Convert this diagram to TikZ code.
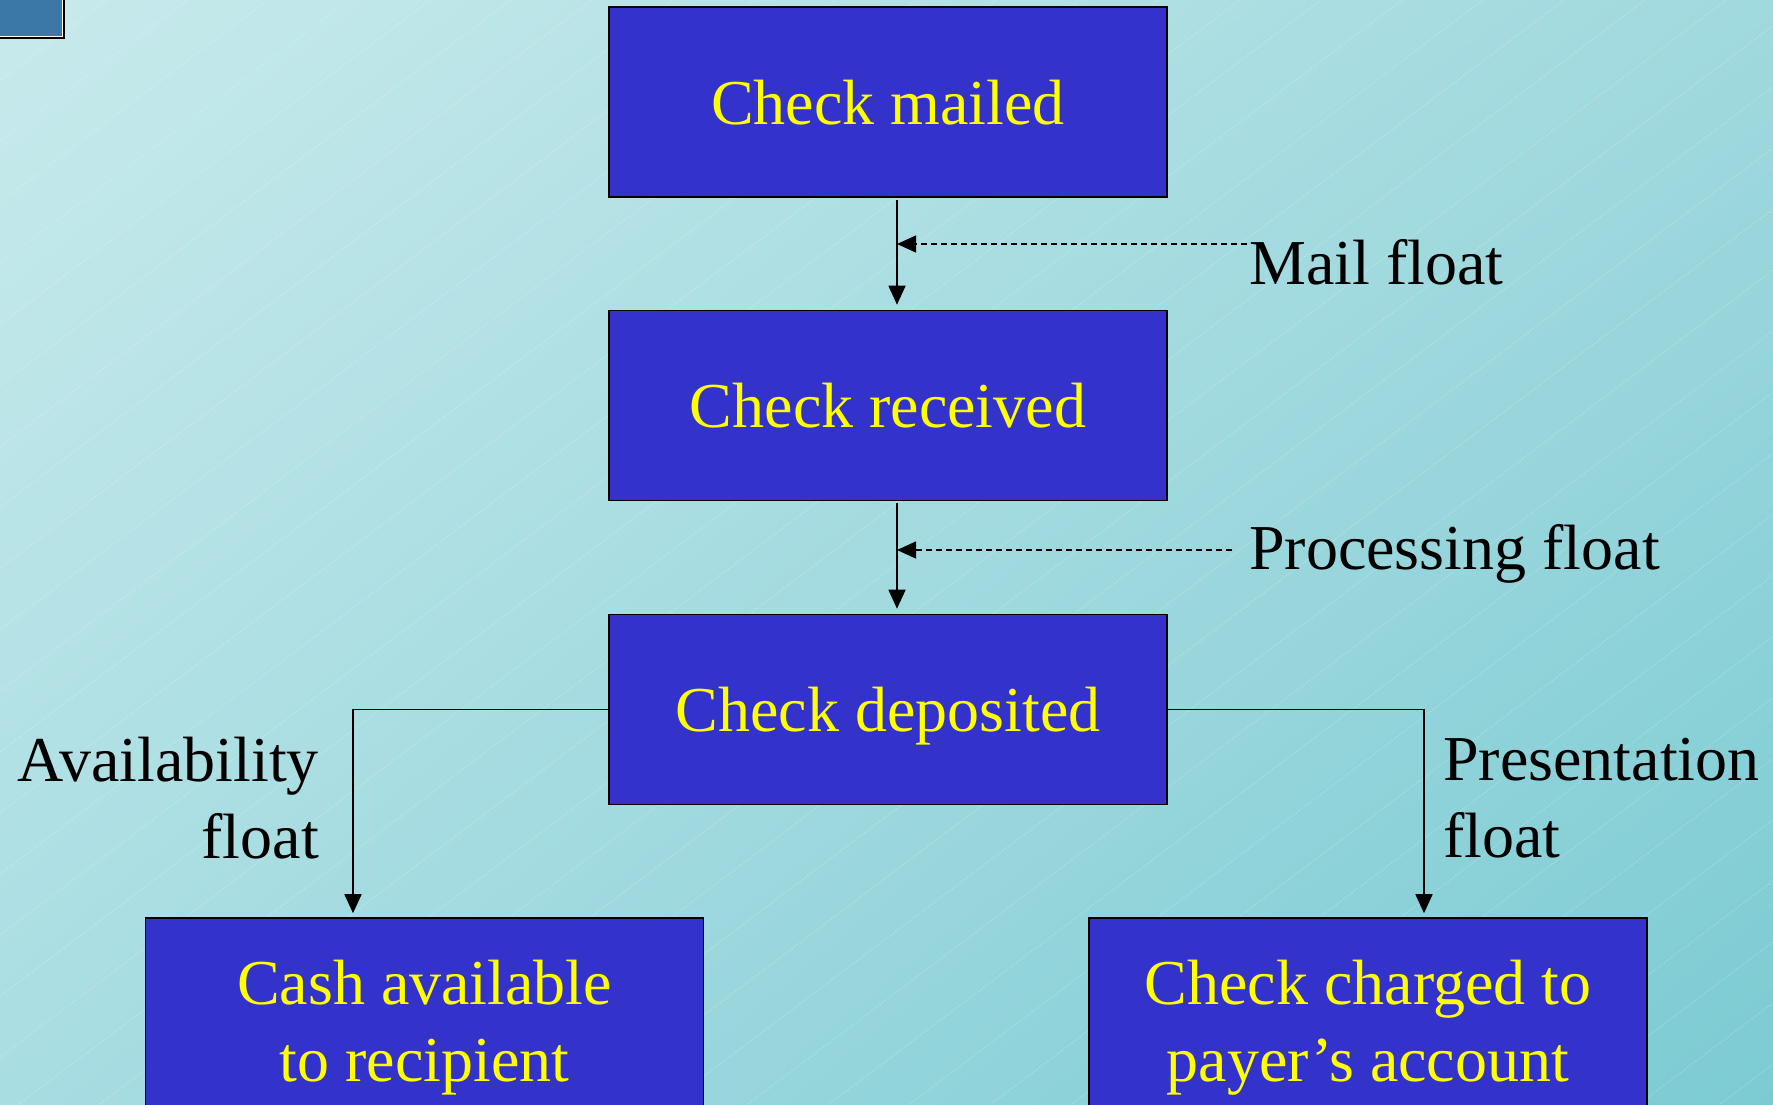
\documentclass[tikz,border=0pt]{standalone}
\usepackage{fontspec}
\setmainfont{Liberation Serif}
\usetikzlibrary{arrows.meta,calc,shadings}
\definecolor{boxblue}{HTML}{3333CC}
\definecolor{txtyellow}{HTML}{FFFF00}
\definecolor{bgUL}{HTML}{C8EAEC}
\definecolor{bgUR}{HTML}{A0D9DE}
\definecolor{bgLL}{HTML}{A8DDE2}
\definecolor{bgLR}{HTML}{7CCBD3}
\definecolor{cornerblue}{HTML}{3B78A8}
\tikzset{
  stepbox/.style={draw=black, line width=1.6pt, fill=boxblue, text=txtyellow,
    minimum width=558pt, minimum height=190pt, inner sep=0pt, align=center,
    font=\fontsize{64}{77}\selectfont},
  onebox/.style={stepbox, text depth=0pt},
  lbl/.style={text=black, inner sep=0pt, font=\fontsize{64}{77}\selectfont},
  arr/.style={line width=1.6pt, -{Triangle[length=19pt,width=17pt]}},
  darr/.style={line width=1.3pt, dash pattern=on 6pt off 4pt, -{Triangle[length=19pt,width=17pt]}}
}
\begin{document}
\begin{tikzpicture}[x=1pt,y=-1pt]
\useasboundingbox (0,0) rectangle (1773,1104);
\clip (0,0) rectangle (1773,1104);
% background
\shade[upper left=bgUL, upper right=bgUR, lower left=bgLL, lower right=bgLR] (0,0) rectangle (1773,1104);
\foreach \c in {-1520,-1439,...,1800} {
  \draw[white, opacity=0.28, line width=0.6pt, dash pattern=on 2pt off 1pt] (\c,1104) -- (\c+1464,0);
}
% corner square
\fill[cornerblue] (0,0) rectangle (64,38);
\draw[white, line width=1pt] (0,36) -- (62,36) -- (62,0);
\draw[black, line width=2.5pt] (0,38) -- (64,38) -- (64,0);
% boxes
\node[onebox] (b1) at (888,102) {Check mailed};
\node[onebox] (b2) at (888,405.5) {Check received};
\node[onebox] (b3) at (888,709.5) {Check deposited};
\node[stepbox, minimum height=220pt] (b4) at (424.5,1028) {Cash available\\to recipient};
\node[stepbox, minimum height=220pt] (b5) at (1368,1028) {Check charged to\\payer’s account};
% labels
\node[lbl, anchor=west] (lmail) at (1249,262) {Mail float};
\node[lbl, anchor=west] (lproc) at (1249,554) {Processing float};
\node[lbl, anchor=east, align=right] (lavail) at (319,798) {Availability\\float};
\node[lbl, anchor=west, align=left] (lpres) at (1443,798) {Presentation\\float};
% vertical arrows
\coordinate (ax) at (897,0);
\draw[arr, shorten >=5pt, shorten <=2pt] (b1.south -| ax) -- (b2.north -| ax);
\draw[arr, shorten >=5pt, shorten <=2pt] (b2.south -| ax) -- (b3.north -| ax);
% dashed arrows
\coordinate (m1) at (1247,244);
\coordinate (m2) at (1232,550);
\draw[darr] (m1) -- (m1 -| ax);
\draw[darr] (m2) -- (m2 -| ax);
% elbow arrows
\draw[arr, shorten >=4pt] (b3.west) -| ([xshift=-71.5pt]b4.north);
\draw[arr, shorten >=4pt] (b3.east) -| ([xshift=56pt]b5.north);
\end{tikzpicture}
\end{document}
